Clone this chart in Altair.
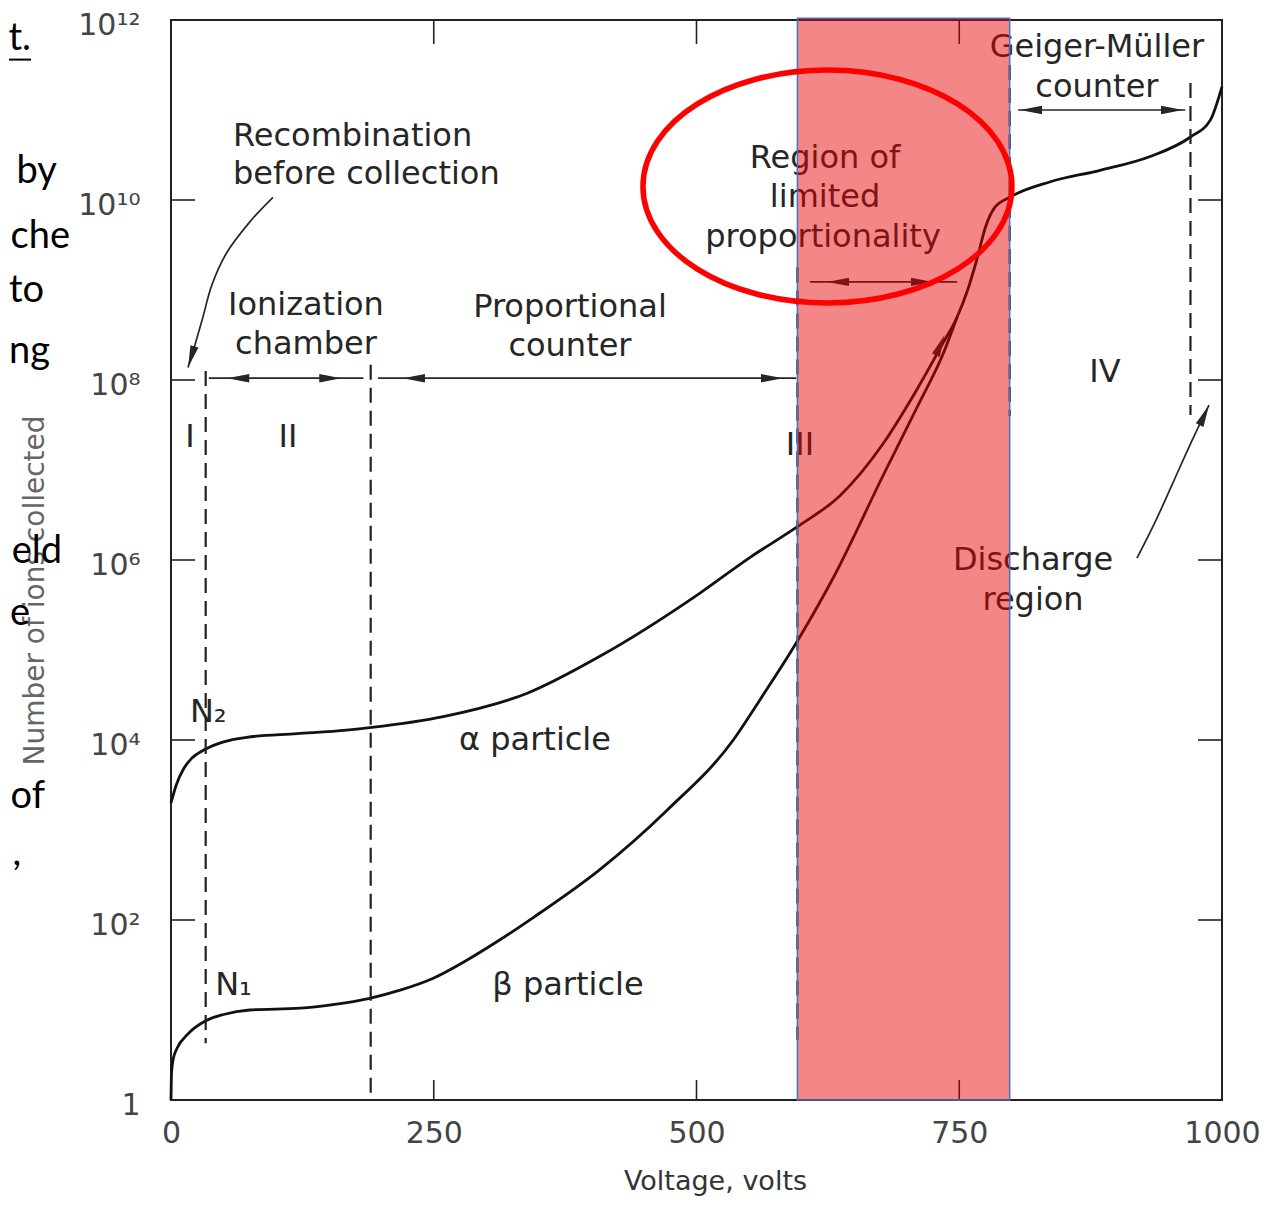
import altair as alt
import pandas as pd

FONT = "DejaVu Sans"
INK = "#262626"

# ---------------- data (volts, log10 of number of ions collected) ----------------
alpha_v = [0, 5, 12, 20, 33, 50, 72, 120, 167, 191, 259, 339, 408, 503, 551, 596, 637, 678,
           710, 735, 748, 758, 767, 775, 784, 798, 836, 884, 931, 970, 989, 1000]
alpha_log = [3.3, 3.5, 3.68, 3.8, 3.9, 3.98, 4.03, 4.07, 4.11, 4.14, 4.26, 4.52, 4.93, 5.63, 6.03,
             6.37, 6.72, 7.3, 7.9, 8.42, 8.7, 9.0, 9.35, 9.7, 9.92, 10.03, 10.2, 10.33, 10.48,
             10.7, 10.89, 11.26]

beta_v = [0, 0.5, 2, 6, 15, 33, 50, 75, 123, 154, 189, 218, 249, 281, 313, 345, 408, 472, 535,
          560, 596, 630, 678, 710, 735, 748]
beta_log = [0, 0.3, 0.45, 0.58, 0.72, 0.88, 0.95, 1.0, 1.02, 1.06, 1.13, 1.22, 1.35, 1.55, 1.78,
            2.03, 2.56, 3.22, 4.0, 4.44, 5.1, 5.8, 6.95, 7.7, 8.3, 8.7]

# dashed region boundaries
dash_v = [33, 190, 596, 798, 970]
dash_top = [8.1, 8.17, 9.25, 11.5, 11.3]
dash_bot = [0.63, 0.03, 0.67, 7.6, 7.61]

# horizontal range arrows (shaft)
shaft_from = [36, 197, 608, 806]
shaft_to = [183, 595, 748, 965]
shaft_log = [8.02, 8.02, 9.09, 11.0]

# arrow heads (tip position, rotation; 0 = pointing left)
head_v = [53.5, 162, 220.7, 582.3, 624.2, 725, 807.8, 962.9, 16.2, 987.6, 736]
head_log = [8.02, 8.02, 8.02, 8.02, 9.09, 9.09, 11.0, 11.0, 8.14, 7.72, 8.5]
head_angle = [0, 180, 0, 180, 0, 180, 0, 180, 287, 115, 113]

# curved pointer arrows
recomb_v = [97.0, 75.2, 53.3, 39.0, 30.4, 22.8, 16.2]
recomb_log = [10.03, 9.76, 9.42, 9.06, 8.70, 8.39, 8.14]
disch_v = [919.1, 936.3, 953.4, 969.6, 987.6]
disch_log = [6.02, 6.42, 6.86, 7.28, 7.72]

# annotation texts (centered)
ann_text = ["Ionization", "chamber", "Proportional", "counter", "Region of", "limited",
            "proportionality", "Geiger-Müller", "counter", "IV", "I", "II", "III",
            "N₂", "N₁", "α particle", "β particle", "Discharge", "region"]
ann_v = [128.4, 128.4, 379.6, 379.6, 622.3, 622.3, 620.4, 881, 881, 888.7, 18.1, 111.3,
         598.5, 35.5, 59.5, 346.3, 377.7, 820.2, 820.2]
ann_log = [8.83, 8.40, 8.81, 8.38, 10.47, 10.03, 9.59, 11.70, 11.26, 8.09, 7.37, 7.37,
           7.28, 4.31, 1.28, 4.0, 1.28, 6.0, 5.56]

# left-aligned annotation
left_text = ["Recombination", "before collection"]
left_v = [59, 59]
left_log = [10.71, 10.29]

# cut-off slide text fragments on the left margin
frag_text = ["t.", "by", "che", "to", "ng", "eld", "e", "of", ","]
frag_v = [-133.2, -108.5, -96.1, -120.8, -115.1, -103.7, -134.2, -119.9, -142.7]
frag_log = [11.67, 10.19, 9.47, 8.87, 8.19, 5.97, 5.28, 3.24, 2.61]

# highlighted band and ellipse
band_v = [596]
band_v2 = [798]
ellipse_v = [624.6]
ellipse_log = [10.15]

x_ticks = [0, 250, 500, 750, 1000]
y_ticks = [1, 1e2, 1e4, 1e6, 1e8, 1e10, 1e12]
inner_x_ticks = [250, 500, 750]
inner_y_ticks = [1e2, 1e4, 1e6, 1e8, 1e10]

# ---------------- scales & axes ----------------
xs = alt.Scale(domain=[0, 1000], nice=False, zero=False)
ys = alt.Scale(type="log", domain=[1, 1e12], nice=False)

xaxis = alt.Axis(values=x_ticks, format="d", labelFont=FONT, labelFontSize=30, labelColor="#444",
                 labelPadding=18, labelFlush=False, ticks=False, domain=False, grid=False,
                 title="Voltage, volts", titleFont=FONT, titleFontSize=27, titleColor="#333",
                 titleFontWeight="normal", titleX=544, titleY=81, titleBaseline="middle")
ylab = ("datum.value == 1 ? '1' : datum.value == 100 ? '10²' : datum.value == 10000 ? '10⁴' : "
        "datum.value == 1000000 ? '10⁶' : datum.value == 100000000 ? '10⁸' : "
        "datum.value == 10000000000 ? '10¹⁰' : '10¹²'")
yaxis = alt.Axis(values=y_ticks, labelExpr=ylab, labelFont=FONT, labelFontSize=30,
                 labelColor="#444", labelPadding=31, labelOffset=5, ticks=False, domain=False,
                 grid=False, title="Number of ions collected", titleFont=FONT, titleFontSize=28,
                 titleColor="#666", titleFontWeight="normal", titleX=-136, titleY=570,
                 titleAngle=270, titleAlign="center", titleBaseline="middle")


def X(f="V"):
    return alt.X(f"{f}:Q", scale=xs, axis=xaxis)


def Y(f="N"):
    return alt.Y(f"{f}:Q", scale=ys, axis=yaxis)


def p10(lst):
    return [10 ** v for v in lst]


# ---------------- frames ----------------
curves = pd.DataFrame({
    "V": alpha_v + beta_v,
    "N": p10(alpha_log) + p10(beta_log),
    "s": ["alpha"] * len(alpha_v) + ["beta"] * len(beta_v),
})
dashes = pd.DataFrame({"V": dash_v, "N": p10(dash_top), "N2": p10(dash_bot)})
shafts = pd.DataFrame({"V": shaft_from, "V2": shaft_to, "N": p10(shaft_log)})
heads = pd.DataFrame({"V": head_v, "N": p10(head_log), "a": head_angle})
pointers = pd.DataFrame({
    "V": recomb_v + disch_v,
    "N": p10(recomb_log) + p10(disch_log),
    "g": ["r"] * len(recomb_v) + ["d"] * len(disch_v),
    "i": list(range(len(recomb_v))) + list(range(len(disch_v))),
})
anns = pd.DataFrame({"V": ann_v, "N": p10(ann_log), "t": ann_text})
lefts = pd.DataFrame({"V": left_v, "N": p10(left_log), "t": left_text})
frags = pd.DataFrame({"V": frag_v, "N": p10(frag_log), "t": frag_text})
band = pd.DataFrame({"V": band_v, "V2": band_v2, "N": [1], "N2": [10 ** 12.02]})
ell = pd.DataFrame({"V": ellipse_v, "N": p10(ellipse_log)})
xt = pd.DataFrame({"V": inner_x_ticks})
yt = pd.DataFrame({"N": inner_y_ticks})
uline = pd.DataFrame({"V": [-154.1], "V2": [-133.2], "N": [10 ** 11.56]})

ARROW = "M 0 0 L 2 -0.38 L 2 0.38 Z"
ELLIPSE = ("M -1 0 C -1 -0.3485 -0.5523 -0.631 0 -0.631 C 0.5523 -0.631 1 -0.3485 1 0 "
           "C 1 0.3485 0.5523 0.631 0 0.631 C -0.5523 0.631 -1 0.3485 -1 0 Z")

# ---------------- layers ----------------
tick_l = alt.Chart(yt).mark_rule(color="#222", strokeWidth=1.6).encode(
    y=Y(), x=alt.value(0), x2=alt.value(24))
tick_r = alt.Chart(yt).mark_rule(color="#222", strokeWidth=1.6).encode(
    y=Y(), x=alt.value(1027), x2=alt.value(1051))
tick_b = alt.Chart(xt).mark_rule(color="#222", strokeWidth=1.6).encode(
    x=X(), y=alt.value(1060), y2=alt.value(1080))
tick_t = alt.Chart(xt).mark_rule(color="#222", strokeWidth=1.6).encode(
    x=X(), y=alt.value(0), y2=alt.value(24))

curve_l = alt.Chart(curves).mark_line(color="#111", strokeWidth=2.8, interpolate="monotone").encode(
    x=X(), y=Y(), detail="s:N")
dash_l = alt.Chart(dashes).mark_rule(color="#222", strokeWidth=2.2, strokeDash=[15, 8]).encode(
    x=X(), y=Y(), y2="N2:Q")
shaft_l = alt.Chart(shafts).mark_rule(color=INK, strokeWidth=1.7).encode(
    x=X(), x2="V2:Q", y=Y())
head_l = alt.Chart(heads).mark_point(shape=ARROW, filled=True, color=INK, size=484, opacity=1).encode(
    x=X(), y=Y(), angle=alt.Angle("a:Q", scale=None))
pointer_l = alt.Chart(pointers).mark_line(color=INK, strokeWidth=1.7, interpolate="cardinal").encode(
    x=X(), y=Y(), detail="g:N", order="i:Q")
ann_l = alt.Chart(anns).mark_text(font=FONT, fontSize=32, color=INK, align="center",
                                  baseline="middle").encode(x=X(), y=Y(), text="t:N")
left_l = alt.Chart(lefts).mark_text(font=FONT, fontSize=32, color=INK, align="left",
                                    baseline="middle").encode(x=X(), y=Y(), text="t:N")
band_l = alt.Chart(band).mark_rect(fill="#E60000", fillOpacity=0.47, stroke="#4472C4",
                                   strokeWidth=1.5).encode(x=X(), x2="V2:Q", y=Y(), y2="N2:Q")
ell_l = alt.Chart(ell).mark_point(shape=ELLIPSE, filled=False, color="#FF0000", strokeWidth=5.5,
                                  size=136161, opacity=1).encode(x=X(), y=Y())
frag_l = alt.Chart(frags).mark_text(font="Lato", fontSize=38, color="black",
                                    align="right", baseline="alphabetic").encode(
    x=X(), y=Y(), text="t:N")
uline_l = alt.Chart(uline).mark_rule(color="black", strokeWidth=2).encode(
    x=X(), x2="V2:Q", y=Y())

chart = alt.layer(
    tick_l, tick_r, tick_b, tick_t, curve_l, dash_l, shaft_l, head_l, pointer_l,
    ann_l, left_l, band_l, ell_l, frag_l, uline_l,
).properties(
    width=1051, height=1080,
    padding={"left": 163, "top": 12, "right": 40, "bottom": 98},
    autosize=alt.AutoSizeParams(type="none"),
    background="white",
).configure_view(stroke="#222", strokeWidth=2)

chart.save("out.html", embed_options={"renderer": "svg", "actions": False})
